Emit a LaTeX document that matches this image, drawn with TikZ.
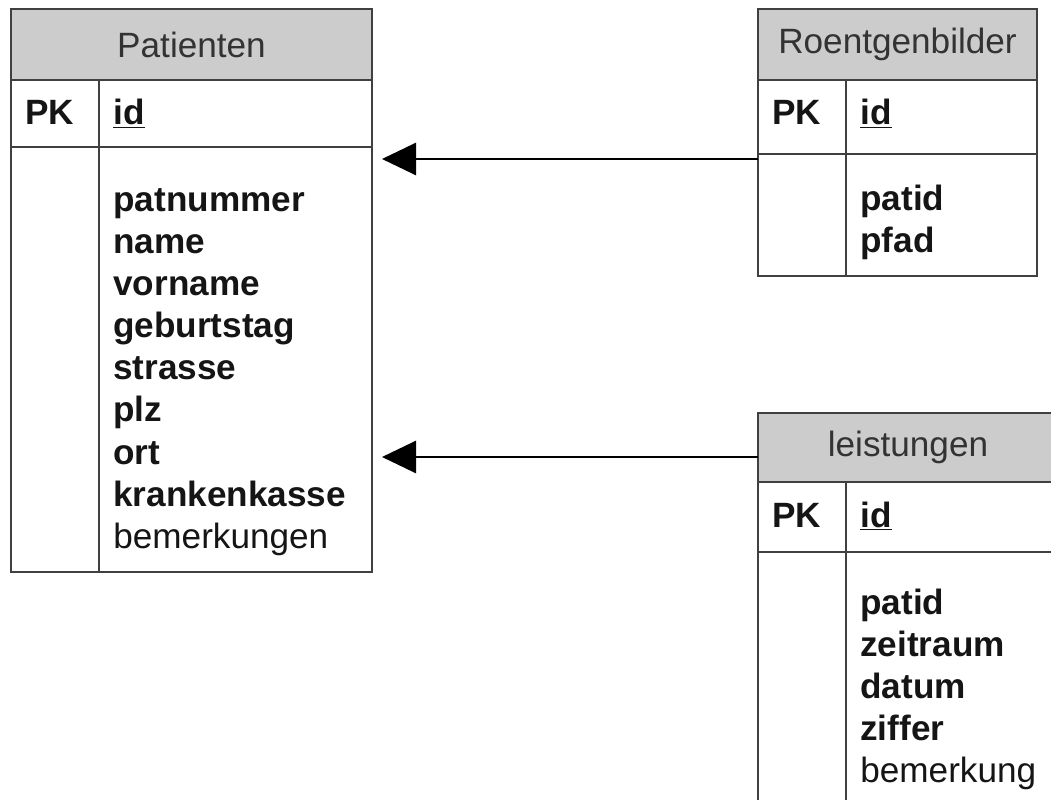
\documentclass[tikz,border=0pt]{standalone}
\usepackage{fontspec}
\setmainfont{Liberation Sans}
\usetikzlibrary{arrows.meta,positioning}
\definecolor{hdrgray}{HTML}{CCCCCC}
\definecolor{linegray}{HTML}{404040}
\definecolor{txtgray}{HTML}{151515}

\begin{document}
\begin{tikzpicture}[
    every node/.style={font=\fontsize{20}{24}\selectfont, text=txtgray},
    cell/.style={draw=linegray, line width=1.1pt, rectangle, inner sep=0pt, outer sep=0pt, anchor=north west},
    hdr/.style={cell, fill=hdrgray, text=black!80},
    fld/.style={anchor=base west, inner sep=0pt, font=\fontsize{20}{24}\selectfont\bfseries},
    plain/.style={anchor=base west, inner sep=0pt},
    fk/.style={line width=1.6pt, -{Triangle[length=0.68cm, width=0.64cm]}}
]
\clip (0,0) rectangle (21.02,-16);

% Patienten
\node[hdr, minimum width=7.22cm, minimum height=1.42cm] (pat-hdr) at (0.22,-0.18) {Patienten};
\node[cell, minimum width=1.76cm, minimum height=1.34cm] (pat-pk) at (pat-hdr.south west) {};
\node[cell, minimum width=5.46cm, minimum height=1.34cm] (pat-key) at (pat-pk.north east) {};
\node[cell, minimum width=1.76cm, minimum height=8.5cm] (pat-left) at (pat-pk.south west) {};
\node[cell, minimum width=5.46cm, minimum height=8.5cm] (pat-body) at (pat-pk.south east) {};
\node[fld] (pat-pk-t) at ([xshift=0.28cm,yshift=-0.9cm]pat-pk.north west) {PK};
\node[fld] (pat-id) at ([xshift=0.28cm,yshift=-0.9cm]pat-key.north west) {\underline{id}};
\foreach \f [count=\i] in {patnummer,name,vorname,geburtstag,strasse,plz,ort,krankenkasse}
    \node[fld] (pat-f\i) at ([xshift=0.28cm,yshift={-1.30cm-(\i-1)*0.84cm}]pat-body.north west) {\f};
\node[plain] (pat-f9) at ([xshift=0.28cm,yshift=-8.02cm]pat-body.north west) {bemerkungen};

% Roentgenbilder
\node[hdr, minimum width=5.58cm, minimum height=1.42cm] (roe-hdr) at (15.16,-0.18) {Roentgenbilder};
\node[cell, minimum width=1.76cm, minimum height=1.48cm] (roe-pk) at (roe-hdr.south west) {};
\node[cell, minimum width=3.82cm, minimum height=1.48cm] (roe-key) at (roe-pk.north east) {};
\node[cell, minimum width=1.76cm, minimum height=2.44cm] (roe-left) at (roe-pk.south west) {};
\node[cell, minimum width=3.82cm, minimum height=2.44cm] (roe-body) at (roe-pk.south east) {};
\node[fld] (roe-pk-t) at ([xshift=0.28cm,yshift=-0.9cm]roe-pk.north west) {PK};
\node[fld] (roe-id) at ([xshift=0.28cm,yshift=-0.9cm]roe-key.north west) {\underline{id}};
\foreach \f [count=\i] in {patid,pfad}
    \node[fld] (roe-f\i) at ([xshift=0.28cm,yshift={-1.14cm-(\i-1)*0.84cm}]roe-body.north west) {\f};

% leistungen
\node[hdr, minimum width=6.0cm, minimum height=1.38cm] (lei-hdr) at (15.16,-8.26) {leistungen};
\node[cell, minimum width=1.76cm, minimum height=1.40cm] (lei-pk) at (lei-hdr.south west) {};
\node[cell, minimum width=4.24cm, minimum height=1.40cm] (lei-key) at (lei-pk.north east) {};
\node[cell, minimum width=1.76cm, minimum height=6cm] (lei-left) at (lei-pk.south west) {};
\node[cell, minimum width=4.24cm, minimum height=6cm] (lei-body) at (lei-pk.south east) {};
\node[fld] (lei-pk-t) at ([xshift=0.28cm,yshift=-0.9cm]lei-pk.north west) {PK};
\node[fld] (lei-id) at ([xshift=0.28cm,yshift=-0.9cm]lei-key.north west) {\underline{id}};
\foreach \f [count=\i] in {patid,zeitraum,datum,ziffer}
    \node[fld] (lei-f\i) at ([xshift=0.28cm,yshift={-1.24cm-(\i-1)*0.84cm}]lei-body.north west) {\f};
\node[plain] (lei-f5) at ([xshift=0.28cm,yshift=-4.60cm]lei-body.north west) {bemerkung};

% foreign keys
\draw[fk] ([yshift=-0.1cm]roe-left.north west) -- ([xshift=0.2cm,yshift=-0.1cm]roe-left.north west -| pat-body.east);
\draw[fk] ([yshift=-0.88cm]lei-hdr.north west) -- ([xshift=0.2cm,yshift=-0.88cm]lei-hdr.north west -| pat-body.east);
\end{tikzpicture}
\end{document}
